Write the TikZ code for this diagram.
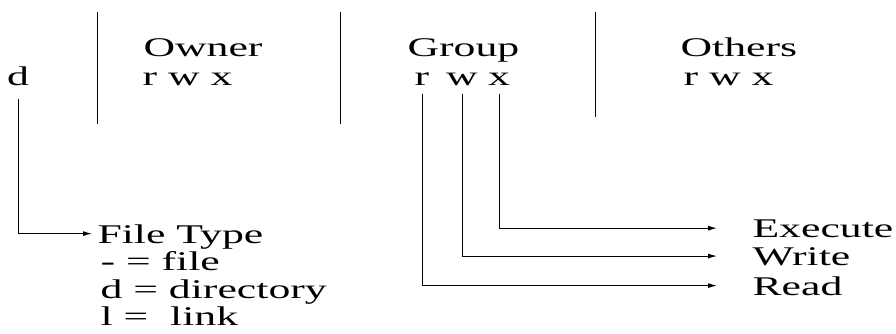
\documentclass[tikz,border=0pt]{standalone}
\usepackage{fontspec}
\setmainfont[FakeStretch=1.62]{Liberation Serif}
\usetikzlibrary{arrows.meta}

\tikzset{
  lbl/.style={inner sep=0pt, anchor=base west, font=\fontsize{27}{29}\selectfont},
  conn/.style={-{Latex[length=9pt,width=5pt]}},
}

\begin{document}
\begin{tikzpicture}[x=1pt, y=-1pt, line width=1pt]
  \useasboundingbox (0,0) rectangle (896,333);
  % separators between owner, group and others
  \foreach \x/\b in {97/124, 340/124, 595/117} \draw (\x,12) -- (\x,\b);

  \node[lbl, anchor=base] (d) at (18,85) {d};
  \node[lbl] (owner) at (143,56) {Owner};
  \node[lbl] (ownerperm) at (142,85) {r w x};
  \node[lbl] (group) at (407,56) {Group};
  \node[lbl, anchor=base] (gr) at (422,85) {r};
  \node[lbl, anchor=base] (gw) at (462,85) {w};
  \node[lbl, anchor=base] (gx) at (499,85) {x};
  \node[lbl] (others) at (680,56) {Others};
  \node[lbl] (otherperm) at (683,85) {r w x};

  % file type legend
  \node[lbl, text depth=0pt] (ftype) at (97,243) {File Type};
  \node[lbl] (tfile) at (100,270) {- = file};
  \node[lbl] (tdir) at (100,298) {d = directory};
  \node[lbl, text depth=0pt] (tlink) at (100,325) {l = \ link};

  % names of the three bits
  \node[lbl, text depth=0pt] (exec) at (752,237) {Execute};
  \node[lbl, text depth=0pt] (write) at (752,265) {Write};
  \node[lbl, text depth=0pt] (read) at (752,295) {Read};

  \draw[conn, shorten <=13pt, shorten >=5pt] (d.south) |- (ftype.west);
  \foreach \bit/\name in {gr/read, gw/write, gx/exec}
    \draw[conn, shorten <=8pt, shorten >=35pt] (\bit.south) |- (\name.west);
\end{tikzpicture}
\end{document}
